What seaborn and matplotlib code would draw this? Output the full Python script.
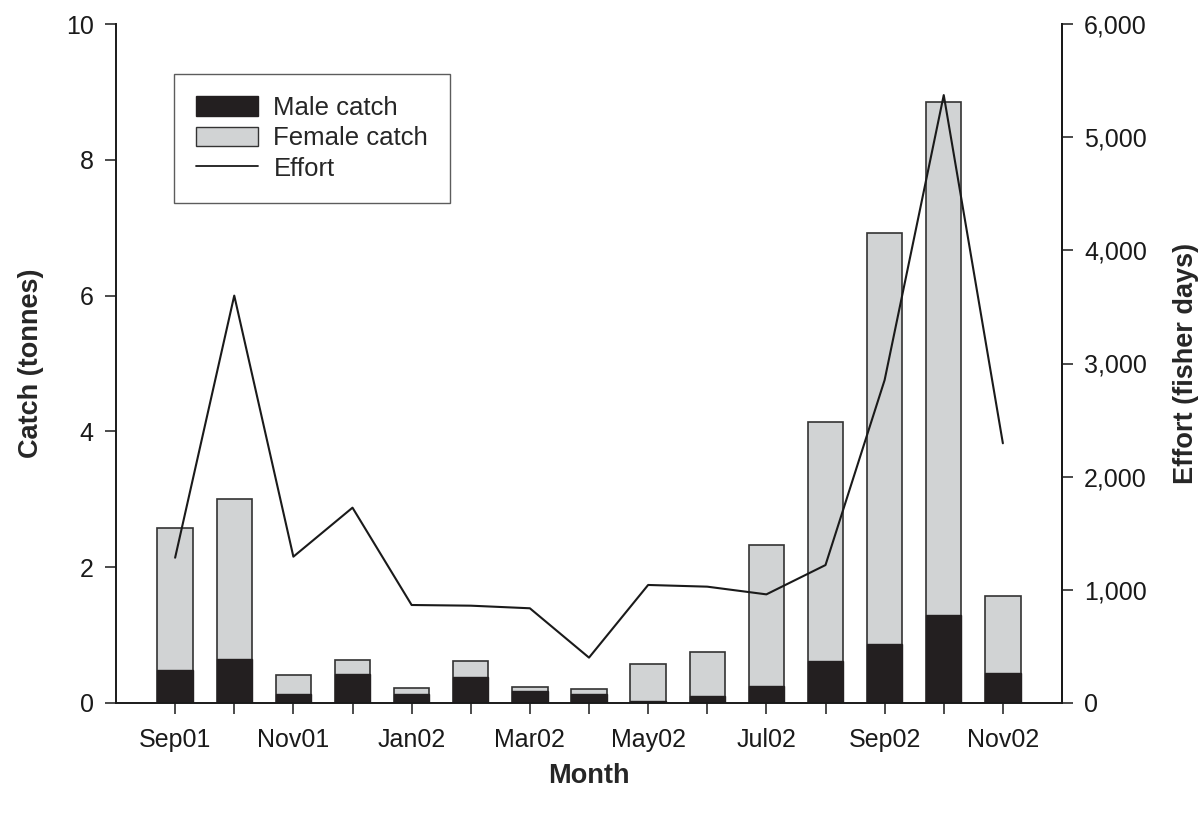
import numpy as np
import pandas as pd
import matplotlib
matplotlib.use("Agg")
import matplotlib.pyplot as plt
import seaborn as sns
from matplotlib.patches import Patch
from matplotlib.lines import Line2D
from matplotlib.ticker import FuncFormatter

months = ["Sep01", "Oct01", "Nov01", "Dec01", "Jan02", "Feb02", "Mar02", "Apr02",
          "May02", "Jun02", "Jul02", "Aug02", "Sep02", "Oct02", "Nov02"]
male_catch = [0.49, 0.65, 0.13, 0.43, 0.13, 0.39, 0.17, 0.13,
              0.03, 0.10, 0.25, 0.62, 0.87, 1.29, 0.44]
total_catch = [2.58, 3.00, 0.41, 0.63, 0.22, 0.62, 0.23, 0.20,
               0.58, 0.75, 2.32, 4.14, 6.92, 8.85, 1.58]
female_catch = [t - m for t, m in zip(total_catch, male_catch)]
effort = [1284, 3600, 1293, 1726, 866, 860, 837, 401,
          1043, 1028, 960, 1219, 2854, 5372, 2295]
shown_labels = ["Sep01", "Nov01", "Jan02", "Mar02", "May02", "Jul02", "Sep02", "Nov02"]

df = pd.DataFrame({"month": months, "male": male_catch,
                   "female": female_catch, "total": total_catch,
                   "effort": effort})

sns.set_theme(style="ticks")
plt.rcParams['font.family'] = ['Liberation Sans', 'DejaVu Sans']

fig = plt.figure(figsize=(12.03, 8.14), dpi=100)
ax = fig.add_axes([116/1203, 1-703/814, (1062-116)/1203, (703-24)/814])

male_col = "#231f20"
fem_col = "#d1d3d4"
edge_col = "#333333"

sns.barplot(data=df, x="month", y="total", order=months, color=fem_col,
            saturation=1, width=0.6, edgecolor=edge_col, linewidth=1.2, ax=ax)
sns.barplot(data=df, x="month", y="male", order=months, color=male_col,
            saturation=1, width=0.6, edgecolor=male_col, linewidth=1.0, ax=ax)

ax.set_xlim(-1, 15)
ax.set_ylim(0, 10)
ax.set_yticks([0, 2, 4, 6, 8, 10])
ax.set_xticks(range(len(months)))
ax.set_xticklabels([m if m in shown_labels else "" for m in months])

ax2 = ax.twinx()
sns.lineplot(x=np.arange(len(months)), y=df["effort"], ax=ax2,
             color="#1a1a1a", linewidth=1.5)
ax2.set_ylim(0, 6000)
ax2.set_xlim(-1, 15)
ax2.set_yticks([0, 1000, 2000, 3000, 4000, 5000, 6000])
ax2.yaxis.set_major_formatter(FuncFormatter(lambda v, p: f"{int(v):,}"))

for a in (ax, ax2):
    for s in a.spines.values():
        s.set_linewidth(1.4)
        s.set_color("#1a1a1a")
    a.spines["top"].set_visible(False)
    a.tick_params(axis="both", direction="out", length=8, width=1.1,
                  labelsize=18, colors="#1a1a1a", pad=8)
ax.tick_params(axis="x", pad=10)
ax2.spines["left"].set_visible(False)
ax2.spines["bottom"].set_visible(False)

lab_font = dict(fontsize=19.5, fontweight="bold")
ax.set_xlabel("Month", labelpad=8, **lab_font)
ax.set_ylabel("Catch (tonnes)", labelpad=16, **lab_font)
ax2.set_ylabel("Effort (fisher days)", labelpad=19, **lab_font)

handles = [Patch(facecolor=male_col, edgecolor=male_col, label="Male catch"),
           Patch(facecolor=fem_col, edgecolor=edge_col, label="Female catch"),
           Line2D([0], [0], color="#1a1a1a", linewidth=1.3, label="Effort")]
leg = ax2.legend(handles=handles, loc="upper left",
                 bbox_to_anchor=((174-116)/946, 1-(74-24)/679),
                 frameon=True, fancybox=False, fontsize=18.5,
                 handlelength=2.4, handleheight=0.78, labelspacing=0.25,
                 borderpad=0.85, handletextpad=0.62, borderaxespad=0)
leg.get_frame().set_edgecolor("#333333")
leg.get_frame().set_linewidth(1.0)

fig.savefig("out.png", dpi=100)
